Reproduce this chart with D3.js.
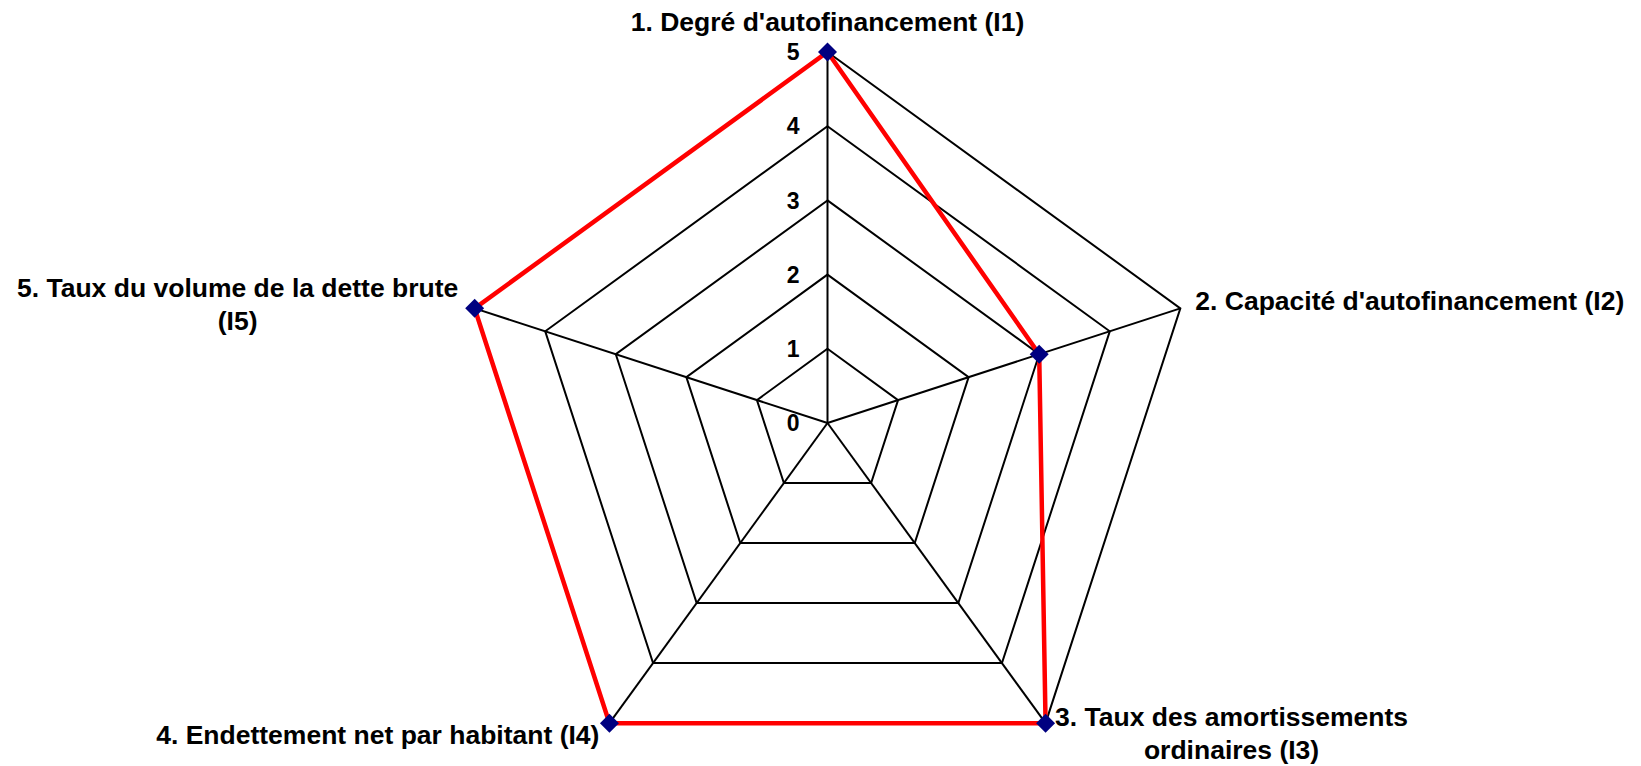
<!DOCTYPE html>
<html>
<head>
<meta charset="utf-8">
<script src="https://cdn.jsdelivr.net/npm/d3@7"></script>
<style>
  html, body { margin: 0; padding: 0; background: #fff; }
  svg { display: block; }
  text { font-family: "Liberation Sans", Arial, sans-serif; font-weight: bold; fill: #000; }
</style>
</head>
<body>
<svg id="chart" width="1641" height="766"></svg>
<script>
// ---- data ----
const categories = [
  ["1. Degré d'autofinancement (I1)"],
  ["2. Capacité d'autofinancement (I2)"],
  ["3. Taux des amortissements", "ordinaires (I3)"],
  ["4. Endettement net par habitant (I4)"],
  ["5. Taux du volume de la dette brute", "(I5)"]
];
const values = [5, 3, 5, 5, 5];
const tickValues = [0, 1, 2, 3, 4, 5];

// ---- layout ----
const W = 1641, H = 766;
const cx = 827.5, cy = 423, R = 371;
const svg = d3.select("#chart");
const r = d3.scaleLinear().domain([0, 5]).range([0, R]);
const n = categories.length;
const angle = d3.scaleLinear().domain([0, n]).range([-Math.PI / 2, 3 * Math.PI / 2]);
const pt = (i, v) => [cx + r(v) * Math.cos(angle(i)), cy + r(v) * Math.sin(angle(i))];

const g = svg.append("g");

// grid pentagons
const line = d3.line();
tickValues.filter(t => t > 0).forEach(t => {
  const pts = d3.range(n).map(i => pt(i, t));
  g.append("path")
    .attr("d", line(pts) + "Z")
    .attr("fill", "none")
    .attr("stroke", "#000")
    .attr("stroke-width", 2);
});
// spokes
d3.range(n).forEach(i => {
  const [x, y] = pt(i, 5);
  g.append("line")
    .attr("x1", cx).attr("y1", cy).attr("x2", x).attr("y2", y)
    .attr("stroke", "#000").attr("stroke-width", 2);
});

// tick labels
g.selectAll("text.tick").data(tickValues).enter().append("text")
  .attr("class", "tick")
  .attr("x", cx - 28)
  .attr("y", d => cy - r(d))
  .attr("dy", "0.36em")
  .attr("text-anchor", "end")
  .attr("font-size", 23)
  .text(d => d);

// data polygon
const dataPts = values.map((v, i) => pt(i, v));
g.append("path")
  .attr("d", line(dataPts) + "Z")
  .attr("fill", "none")
  .attr("stroke", "#ff0000")
  .attr("stroke-width", 4.5)
  .attr("stroke-linejoin", "miter");

// markers
g.selectAll("path.marker").data(dataPts).enter().append("path")
  .attr("class", "marker")
  .attr("d", d3.symbol().type(d3.symbolSquare).size(180))
  .attr("transform", d => `translate(${d[0]},${d[1]}) rotate(45)`)
  .attr("fill", "#000080");

// category labels (placement offsets from each axis end)
const labelPlace = [
  { dx: 0, dy: -21, anchor: "middle" },
  { dx: 15, dy: 2, anchor: "start" },
  { dx: 186, dy: 3, anchor: "middle" },
  { dx: -10, dy: 21, anchor: "end" },
  { dx: -237, dy: -11, anchor: "middle" }
];
categories.forEach((lines, i) => {
  const [x, y] = pt(i, 5);
  const p = labelPlace[i];
  const t = g.append("text")
    .attr("x", x + p.dx)
    .attr("y", y + p.dy)
    .attr("text-anchor", p.anchor)
    .attr("font-size", 26.5);
  lines.forEach((s, k) => {
    t.append("tspan")
      .attr("x", x + p.dx)
      .attr("dy", k === 0 ? 0 : 33)
      .text(s);
  });
});
</script>
</body>
</html>
